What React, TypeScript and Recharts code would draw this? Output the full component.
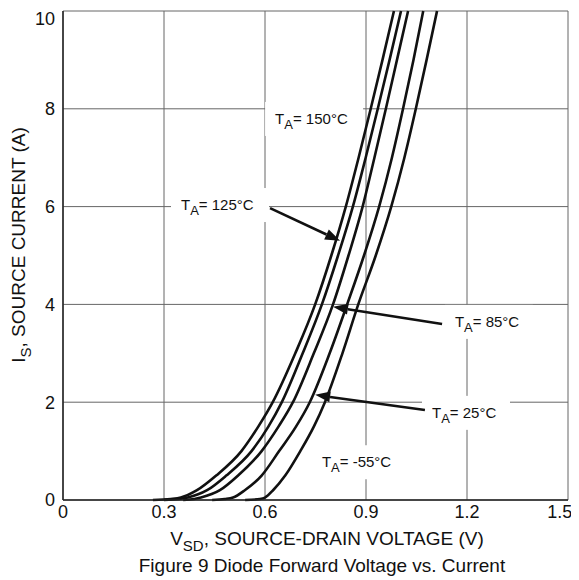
import React from 'react';
import { LineChart, Line, XAxis, YAxis, CartesianGrid, Customized } from 'recharts';

// source current levels (A) shared by every temperature curve
const currentSteps = [0, 0.02, 0.05, 0.2, 0.5, 1, 1.5, 2, 3, 4, 5, 6, 7, 8, 9, 10];

// forward voltage V_SD (V) read at each current level
const vf150 = [0.267, 0.32, 0.35, 0.398, 0.455, 0.53, 0.58, 0.623, 0.69, 0.749, 0.797, 0.84, 0.878, 0.914, 0.949, 0.983];
const vf125 = [0.3, 0.345, 0.37, 0.428, 0.485, 0.56, 0.61, 0.65, 0.712, 0.769, 0.817, 0.861, 0.899, 0.935, 0.97, 1.004];
const vf85 = [0.357, 0.39, 0.41, 0.466, 0.52, 0.59, 0.64, 0.683, 0.745, 0.802, 0.848, 0.89, 0.925, 0.959, 0.992, 1.025];
const vf25 = [0.443, 0.48, 0.505, 0.54, 0.59, 0.642, 0.692, 0.733, 0.792, 0.844, 0.894, 0.939, 0.977, 1.01, 1.041, 1.07];
const vfMinus55 = [0.541, 0.585, 0.6, 0.624, 0.66, 0.705, 0.745, 0.778, 0.83, 0.877, 0.929, 0.975, 1.014, 1.048, 1.08, 1.111];

const xTicks = [0, 0.3, 0.6, 0.9, 1.2, 1.5];
const yTicks = [0, 2, 4, 6, 8, 10];

const toPoints = (vs: number[]) => vs.map((v, k) => ({ v, i: currentSteps[k] }));
const curves = [vf150, vf125, vf85, vf25, vfMinus55].map(toPoints);

// layout
const W = 563;
const H = 572;
const M = { top: 3, right: 3, left: 0, bottom: 0 };
const Y_W = 55;
const X_H = 80;
const plot = { x: M.left + Y_W, y: M.top, w: W - M.left - M.right - Y_W, h: H - M.top - M.bottom - X_H };
const px = (v: number) => plot.x + (v / 1.5) * plot.w;
const py = (i: number) => plot.y + (1 - i / 10) * plot.h;

const FONT = '"Liberation Sans", Arial, sans-serif';

// temperature callouts, anchored in (V, A)
const callouts = [
  { t: '150', at: [0.63, 7.69], w: 76, arrow: null },
  { t: '125', at: [0.3505, 5.93], w: 76, arrow: [[0.615, 5.97], [0.823, 5.3]] },
  { t: '85', at: [1.164, 3.54], w: 66, arrow: [[1.126, 3.6], [0.802, 3.95]] },
  { t: '25', at: [1.096, 1.68], w: 66, arrow: [[1.075, 1.84], [0.749, 2.15]] },
  { t: '-55', at: [0.769, 0.67], w: 73, arrow: null },
];

const Arrow = ({ from, to }: { from: number[]; to: number[] }) => {
  const x1 = px(from[0]), y1 = py(from[1]);
  const x2 = px(to[0]), y2 = py(to[1]);
  const a = Math.atan2(y2 - y1, x2 - x1);
  const len = 15, half = 5.5;
  const bx = x2 - len * Math.cos(a), by = y2 - len * Math.sin(a);
  const nx = -Math.sin(a) * half, ny = Math.cos(a) * half;
  return (
    <g>
      <line x1={x1} y1={y1} x2={bx} y2={by} stroke="#111" strokeWidth={2.6} />
      <polygon points={`${x2},${y2} ${bx + nx},${by + ny} ${bx - nx},${by - ny}`} fill="#111" />
    </g>
  );
};

const Annotations = () => (
  <g fontFamily={FONT} fill="#111">
    {callouts.map((c) => {
      const tx = px(c.at[0]);
      const ty = py(c.at[1]);
      return (
        <g key={c.t}>
          <rect x={tx - 10} y={ty - 22} width={c.w + 22} height={34} fill="#fff" />
          <text x={tx} y={ty} fontSize={15}>
            T<tspan fontSize={13} dy={5}>A</tspan>
            <tspan dy={-5}>{`= ${c.t}°C`}</tspan>
          </text>
          {c.arrow && <Arrow from={c.arrow[0]} to={c.arrow[1]} />}
        </g>
      );
    })}
    <text x={319} y={537} fontSize={19} textAnchor="middle">
      V<tspan fontSize={15} dy={6}>SD</tspan>
      <tspan dy={-6}>, SOURCE-DRAIN VOLTAGE (V)</tspan>
    </text>
    <text x={314} y={564} fontSize={19} textAnchor="middle">
      Figure 9 Diode Forward Voltage vs. Current
    </text>
    <text x={17} y={237} fontSize={19} textAnchor="middle" transform="rotate(-90 17 237)">
      I<tspan fontSize={15} dy={6}>S</tspan>
      <tspan dy={-6}>, SOURCE CURRENT (A)</tspan>
    </text>
  </g>
);

export default function App() {
  return (
    <LineChart width={W} height={H} margin={M}>
      <CartesianGrid stroke="#666" strokeWidth={1} horizontalValues={yTicks} verticalValues={xTicks} />
      <XAxis
        dataKey="v"
        type="number"
        domain={[0, 1.5]}
        ticks={xTicks}
        height={X_H}
        tickLine={false}
        tickSize={3}
        stroke="#222"
        strokeWidth={1.5}
        tick={{ fill: '#111', fontSize: 18, fontFamily: FONT }}
        tickFormatter={(t: number) => (t === 0 ? '0' : t.toFixed(1))}
      />
      <YAxis
        dataKey="i"
        type="number"
        domain={[0, 10]}
        ticks={yTicks}
        width={Y_W}
        tickLine={false}
        stroke="#222"
        strokeWidth={1.5}
        tick={{ fill: '#111', fontSize: 18, fontFamily: FONT }}
      />
      {curves.map((pts, k) => (
        <Line
          key={k}
          data={pts}
          dataKey="i"
          type="monotone"
          stroke="#111"
          strokeWidth={2.6}
          dot={false}
          activeDot={false}
          isAnimationActive={false}
        />
      ))}
      <Customized component={Annotations} />
    </LineChart>
  );
}
